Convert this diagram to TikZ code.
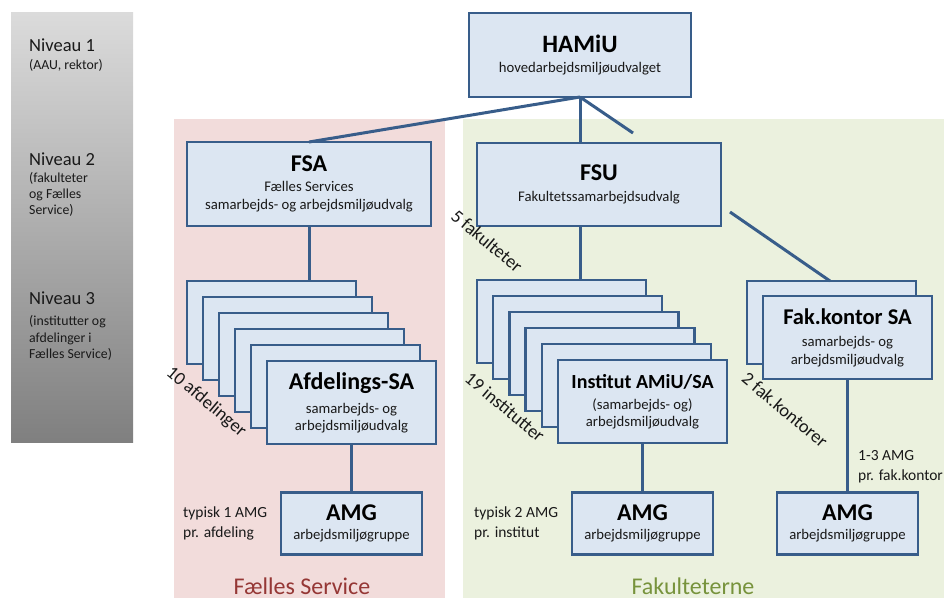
\documentclass[tikz,border=0pt]{standalone}
\usepackage{fontspec}
\setmainfont{Carlito}
\definecolor{boxfill}{HTML}{DCE6F2}
\definecolor{boxline}{HTML}{385D8A}
\definecolor{fspink}{HTML}{F2DCDB}
\definecolor{fakgreen}{HTML}{EBF1DE}
\definecolor{fsred}{HTML}{953735}
\definecolor{fakolive}{HTML}{77933C}
\newcommand\boxhead[2]{{\fontsize{#1}{#1}\selectfont\bfseries\color{black}#2}}

\begin{document}
\begin{tikzpicture}[
  x=1pt, y=-1pt,
  unit/.style={
    draw=boxline, fill=boxfill, line width=2.5pt,
    inner sep=0pt, outer sep=0pt, align=center,
    font=\fontsize{14.7}{18}\selectfont, text=black!90
  },
  back/.style={unit, minimum width=169pt, minimum height=83pt},
  amg/.style={unit, minimum width=141pt, minimum height=62pt},
  conn/.style={draw=boxline, line width=3pt},
  lvl/.style={anchor=west, align=left, inner sep=0pt,
    font=\fontsize{13.8}{16.3}\selectfont, text=black!90},
  note/.style={anchor=west, align=left, inner sep=0pt,
    font=\fontsize{15.5}{20}\selectfont, text=black!90},
  count/.style={rotate=-40, inner sep=0pt,
    font=\fontsize{18.5}{18.5}\selectfont, text=black!90},
  region/.style={inner sep=0pt, font=\fontsize{24}{24}\selectfont}
]
  \useasboundingbox (0,0) rectangle (944,598);
  \shade[top color=black!14, bottom color=black!50] (11,12) rectangle (133,442);
  \fill[fspink] (174,119) rectangle (445,598);
  \fill[fakgreen] (463,119) rectangle (944,598);

  \node[lvl] (lvl1) at (29,55) {{\fontsize{18.5}{18.5}\selectfont Niveau 1}\\[1pt](AAU, rektor)};
  \node[lvl] (lvl2) at (29,185) {{\fontsize{18.5}{18.5}\selectfont Niveau 2}\\[0pt](fakulteter\\og Fælles\\Service)};
  \node[lvl] (lvl3) at (29,326) {{\fontsize{18.5}{18.5}\selectfont Niveau 3}\\[5pt](institutter og\\afdelinger i\\Fælles Service)};

  \node[unit, minimum width=222pt, minimum height=84pt] (hamiu) at (580,55)
    {\boxhead{25}{HAMiU}\\[2pt]hovedarbejdsmiljøudvalget};
  \node[unit, minimum width=244pt, minimum height=84pt] (fsa) at (309,184)
    {\boxhead{24}{FSA}\\[2pt]Fælles Services\\samarbejds- og arbejdsmiljøudvalg};
  \node[unit, minimum width=244pt, minimum height=83pt] (fsu) at (599,184.5)
    {\boxhead{24}{FSU}\\[3pt]Fakultetssamarbejdsudvalg};

  \foreach \k in {0,...,4} {
    \node[back] (afd\k) at (271.5+16*\k,322.5+16*\k) {};
    \node[back] (inst\k) at (561.5+16.2*\k,321.5+16*\k) {};
  }
  \node[back] (afd) at (351.5,402.5)
    {\boxhead{24}{Afdelings-SA}\\[6pt]samarbejds- og\\[-1pt]arbejdsmiljøudvalg};
  \node[back] (inst) at (642.5,401.5)
    {\boxhead{20}{Institut AMiU/SA}\\[3pt](samarbejds- og)\\[-1pt]arbejdsmiljøudvalg};
  \node[back] (fak0) at (831.5,322.5) {};
  \node[back] (fak) at (847.5,337.5)
    {\boxhead{22.5}{Fak.kontor SA}\\[4pt]samarbejds- og\\arbejdsmiljøudvalg};

  \node[amg] (amgafd) at (351.5,523.5) {\boxhead{24}{AMG}\\[1.5pt]arbejdsmiljøgruppe};
  \node[amg] (amginst) at (642.5,523.5) {\boxhead{24}{AMG}\\[1.5pt]arbejdsmiljøgruppe};
  \node[amg] (amgfak) at (847.5,523.5) {\boxhead{24}{AMG}\\[1.5pt]arbejdsmiljøgruppe};

  \coordinate (stub) at (633,133);
  \coordinate (fakstart) at (730,212);
  \coordinate (fakend) at (830,281);
  \draw[conn] (hamiu.south) -- (fsa.north);
  \draw[conn] (hamiu.south) -- (hamiu.south |- fsu.north);
  \draw[conn] (hamiu.south) -- (stub);
  \draw[conn] (fsa.south) -- (fsa.south |- afd0.north);
  \draw[conn] (hamiu.south |- fsu.south) -- (hamiu.south |- inst0.north);
  \draw[conn] (fakstart) -- (fakend);
  \draw[conn] (afd.south) -- (amgafd.north);
  \draw[conn] (inst.south) -- (amginst.north);
  \draw[conn] (fak.south) -- (amgfak.north);

  \node[count] (nfak) at (487,241) {5 fakulteter};
  \node[count] (nafd) at (206,402) {10 afdelinger};
  \node[count] (ninst) at (505,407) {19 institutter};
  \node[count] (nkont) at (785,410) {2 fak.kontorer};

  \node[note] (tafd) at (183,523) {typisk 1 AMG\\pr. afdeling};
  \node[note] (tinst) at (474,523) {typisk 2 AMG\\pr. institut};
  \node[note] (tfak) at (858,467) {1-3 AMG\\pr. fak.kontor};

  \node[region, text=fsred] (fs) at (302,586) {Fælles Service};
  \node[region, text=fakolive] (fk) at (693,586) {Fakulteterne};
\end{tikzpicture}
\end{document}
